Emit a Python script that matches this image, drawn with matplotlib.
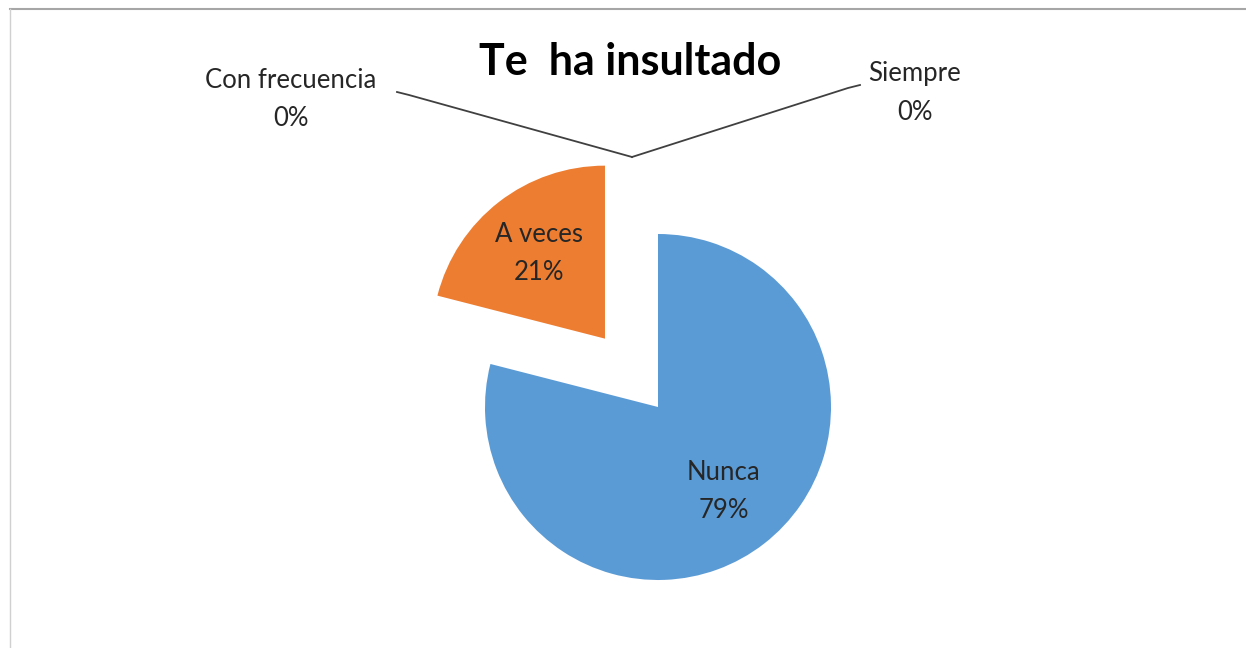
import numpy as np
import matplotlib
matplotlib.use("Agg")
import matplotlib.pyplot as plt

plt.rcParams["font.family"] = ["Lato", "DejaVu Sans"]

# datos de la encuesta
categorias = ["Nunca", "A veces", "Con frecuencia", "Siempre"]
porcentajes = [79, 21, 0, 0]
colores = ["#5B9BD5", "#ED7D31", "#A5A5A5", "#FFC000"]
separacion = [0, 0.5, 0, 0]
titulo = "Te  ha insultado"

W, H = 1246, 648
cx, cy, r = 658, 407, 173  # centro y radio en pixeles

fig = plt.figure(figsize=(W / 100, H / 100), dpi=100)
ax = fig.add_axes([0, 0, 1, 1])

wedges, textos = ax.pie(
    porcentajes,
    colors=colores,
    explode=separacion,
    startangle=90,
    counterclock=False,
    radius=1,
    center=(0, 0),
    wedgeprops={"linewidth": 0},
)
# los limites se fijan despues de pie() porque pie los cambia
ax.set_xlim(-cx / r, (W - cx) / r)
ax.set_ylim(-(H - cy) / r, cy / r)
ax.set_aspect("equal")
ax.axis("off")

fs = 18.5
# etiquetas dentro de los sectores
for w, nombre, p, ex in zip(wedges, categorias, porcentajes, separacion):
    if p == 0:
        continue
    ang = np.deg2rad((w.theta1 + w.theta2) / 2)
    d = ex + 0.62
    ax.text(d * np.cos(ang), d * np.sin(ang), f"{nombre}\n{p}%",
            ha="center", va="center", fontsize=fs, linespacing=1.65, color="#262626")

# sectores de 0% con linea guia
punta = (-26 / r, 250 / r)
guias = {
    "Con frecuencia": ((397 - cx) / r, (cy - 92) / r, (291 - cx) / r, "right"),
    "Siempre": ((860 - cx) / r, (cy - 85) / r, (915 - cx) / r, "left"),
}
for nombre, p in zip(categorias, porcentajes):
    if p != 0:
        continue
    lx, ly, tx, lado = guias[nombre]
    codo = lx + (12 / r if lado == "right" else -12 / r)
    ax.plot([lx, codo, punta[0]], [ly, ly - 3 / r, punta[1]], color="#404040", lw=1.3)
    ax.text(tx, ly - 8 / r, f"{nombre}\n{p}%", ha="center", va="center",
            fontsize=fs, linespacing=1.65, color="#262626")

ax.text((630 - cx) / r, (cy - 62) / r, titulo, ha="center", va="center",
        fontsize=31, fontweight="bold", color="black")

# borde del area del grafico
fig.add_artist(plt.Line2D([10 / W, 1], [1 - 9 / H, 1 - 9 / H], color="#A6A6A6", lw=1.5))
fig.add_artist(plt.Line2D([10 / W, 10 / W], [0, 1 - 9 / H], color="#D0D0D0", lw=1.0))

fig.savefig("out.png", dpi=100)
